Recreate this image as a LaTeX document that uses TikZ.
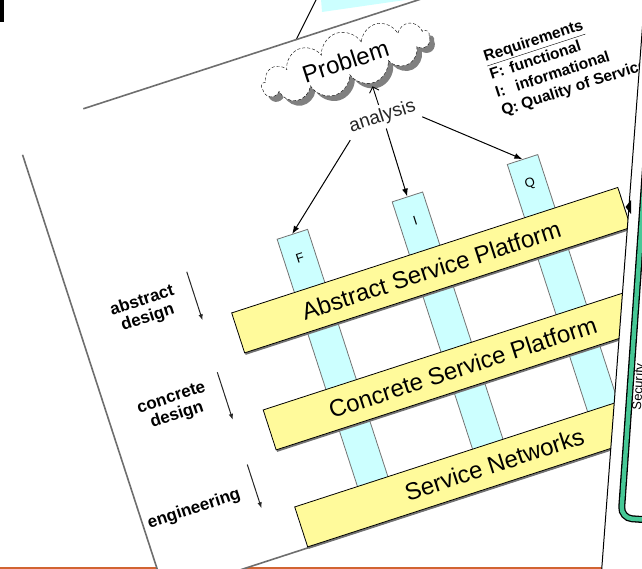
\documentclass[tikz,border=0pt]{standalone}
\usepackage{fontspec}
\setmainfont{Liberation Sans}
\usetikzlibrary{shapes.symbols,shadows,arrows.meta}

\definecolor{boxyellow}{RGB}{255,250,155}
\definecolor{colcyan}{RGB}{204,255,255}
\definecolor{edgegray}{RGB}{110,110,110}
\definecolor{footorange}{RGB}{210,100,50}
\definecolor{framegreen}{RGB}{70,200,150}

\begin{document}
\begin{tikzpicture}[x=1pt,y=-1pt,
    platform/.style={draw=black,line width=0.8pt,fill=boxyellow,minimum width=406pt,minimum height=42pt,inner sep=0pt,font=\fontsize{24}{26}\selectfont,drop shadow={shadow xshift=1pt,shadow yshift=-2pt,fill=black!55,opacity=1}},
    reqcol/.style={draw=black!55,line width=0.8pt,fill=colcyan,minimum width=32pt,minimum height=281pt,inner sep=0pt},
    collabel/.style={font=\fontsize{13}{15}\selectfont},
    phase/.style={font=\fontsize{17}{18}\selectfont\bfseries,align=center,anchor=east,inner sep=0pt},
    phasearrow/.style={-{Latex[length=6pt,width=4.5pt]},line width=1pt,black!85},
    anaarrow/.style={-{Latex[length=8pt,width=6pt]},line width=1pt},
    slideedge/.style={draw=edgegray,line width=1.6pt}]

    % cadre
    \useasboundingbox (0,0) rectangle (642,569);
    \clip (0,0) rectangle (642,569);

    % fond : ligne orange, coin noir, bandeau cyan
    \draw[footorange,line width=2.5pt] (0,568) -- (602,568);
    \fill (0,0) rectangle (4,22);
    \fill[colcyan] (321,-1) -- (322,12) -- (412,-1) -- cycle;
    \draw[line width=1pt] (296,40) -- (319,-6);

    % diapositive inclinee
    \begin{scope}[shift={(320,300)},rotate=18,transform shape]
        \fill[white] (-238,-255) rectangle (420,232);
        \draw[slideedge] (-166,-255) -- (420,-255);
        \draw[slideedge] (-238,-230) -- (-238,232) -- (318,232);

        % probleme et analyse
        \node[cloud,cloud puffs=13,aspect=3.4,draw,densely dashed,fill=white,minimum width=176pt,minimum height=52pt,inner sep=0pt,font=\fontsize{24}{26}\selectfont,drop shadow={shadow xshift=5pt,shadow yshift=-5pt,fill=black!50,opacity=1}] (prob) at (98,-219) {Problem};
        \node[font=\fontsize{19}{21}\selectfont,text=black!85] (ana) at (116,-155) {analysis};
        \coordinate (probfoot) at (116,-187);
        \draw[-{Straight Barb[length=5pt,width=10pt]},line width=0.9pt] (ana.north) -- (probfoot);

        % exigences
        \node[anchor=north west,inner sep=0pt,font=\fontsize{15.5}{19}\selectfont\bfseries] (req) at (231,-189) {\begin{tabular}{@{}p{21pt}@{}l@{}}\multicolumn{2}{@{}l}{\underline{Requirements}}\\ F: & functional\\ I: & informational\\ Q: & Quality of Service\end{tabular}};

        % colonnes F, I, Q
        \foreach \lab/\u in {F/-6,I/115,Q/236} {
            \node[reqcol] (col\lab) at (\u,69.5) {};
            \node[collabel] (tag\lab) at (\u,-46) {\lab};
        }
        \draw[anaarrow] (ana.south west) -- (colF.north);
        \draw[anaarrow] (ana.south) -- (colI.north);
        \draw[anaarrow] (ana.south east) -- (colQ.north);

        % plates-formes
        \node[platform] (absP) at (115,6) {Abstract Service Platform};
        \node[platform] (conP) at (115,108) {Concrete Service Platform};
        \node[platform] (netP) at (115,210) {Service Networks};

        % etapes
        \node[phase] (phA) at (-136,-45) {abstract\\design};
        \node[phase] (phC) at (-136,57) {concrete\\design};
        \node[phase] (phE) at (-136,160) {engineering};
        \foreach \n/\u/\a/\b in {A/-118/-68/-17,C/-120/37/87,E/-120/134/180} {
            \coordinate (top\n) at (\u,\a);
            \coordinate (bot\n) at (\u,\b);
            \draw[phasearrow] (top\n) -- (bot\n);
        }
    \end{scope}

    % diapositive de droite
    \fill[white] (644.5,-2) -- (601.6,571) -- (650,571) -- (650,-2) -- cycle;
    \fill (625.5,207) -- (631,200) -- (631,214) -- cycle;
    \draw[line width=1pt] (644.7,-3) -- (601.5,572);
    \begin{scope}[shift={(621,518)},rotate=-4,transform shape]
        \draw[line width=7pt,rounded corners=11pt] (0,0) rectangle (60,-420);
        \draw[line width=4.4pt,framegreen,rounded corners=11pt] (0,0) rectangle (60,-420);
        \node[rotate=90,anchor=west,font=\fontsize{13}{15}\selectfont] (secu) at (9,-105) {Security};
    \end{scope}
\end{tikzpicture}
\end{document}
